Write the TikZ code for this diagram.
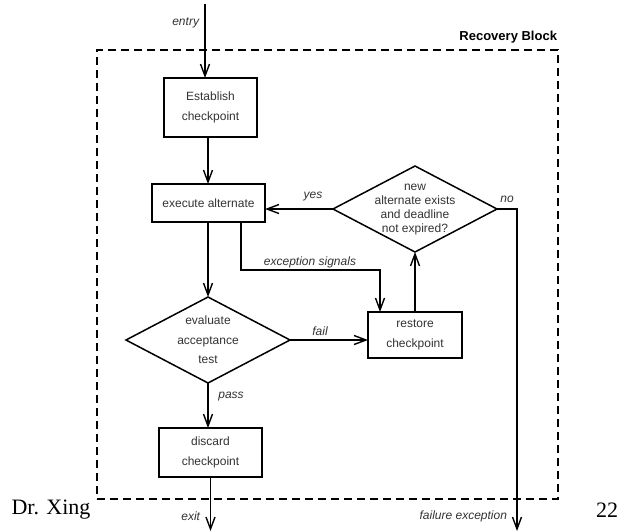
\documentclass[tikz,border=0pt]{standalone}
\usepackage{fontspec}
\setmainfont{Liberation Serif}
\newfontfamily\arialfont{Liberation Sans}
\usetikzlibrary{arrows.meta,shapes.geometric,calc}
\definecolor{textgray}{gray}{0.2}

\begin{document}
\begin{tikzpicture}[x=1pt,y=-1pt,
  every node/.style={inner sep=0pt, outer sep=0pt, text=textgray,
    font=\arialfont\fontsize{12}{19.5}\selectfont},
  procbox/.style={draw=black, line width=1.5pt, align=center},
  decision/.style={diamond, draw=black, line width=1.5pt, inner sep=0pt},
  flow/.style={draw=black, line width=1.4pt,
    -{Straight Barb[length=12pt,width=9pt,line width=1.4pt]}},
  lbl/.style={font=\arialfont\itshape\fontsize{12}{14}\selectfont},
  frame/.style={draw=black, line width=1.7pt, dash pattern=on 8pt off 5pt},
]
% page area
\fill[white] (0,0) rectangle (620,531);
\useasboundingbox (0,0) rectangle (620,531);

% recovery block frame and title
\node[frame, minimum width=461pt, minimum height=449pt] (rb) at (327.5,274.5) {};
\node[anchor=east, text=black, font=\arialfont\bfseries\fontsize{13}{15}\selectfont]
  (rbtitle) at (557,37) {Recovery Block};

% process boxes
\node[procbox, minimum width=93pt, minimum height=59pt] (est) at (210.5,107.5)
  {Establish\\checkpoint};
\node[procbox, minimum width=113pt, minimum height=38pt] (exec) at (208.5,203)
  {execute alternate};
\node[procbox, minimum width=94pt, minimum height=46pt] (rest) at (415,335)
  {restore\\checkpoint};
\node[procbox, minimum width=103pt, minimum height=49pt] (disc) at (210.5,452.5)
  {discard\\checkpoint};

% decisions
\node[decision, minimum width=164pt, minimum height=86pt] (dnew) at (415,209) {};
\node[align=center, font=\arialfont\fontsize{12}{13.7}\selectfont] (dnewtxt) at (415,209.5)
  {new\\alternate exists\\and deadline\\not expired?};
\node[decision, minimum width=164pt, minimum height=86pt] (eval) at (208,340) {};
\node[align=center] (evaltxt) at (208,340)
  {evaluate\\acceptance\\test};

% helper coordinates
\coordinate (entrytop) at (205,4);
\coordinate (ax) at (208,0);
\coordinate (exc) at (241,270);
\coordinate (excR) at (380,270);
\coordinate (exitend) at (210.5,531);
\coordinate (noend) at (517,531);

% connectors
\draw[flow] (entrytop) -- (entrytop |- est.north);
\draw[flow] (est.south -| ax) -- (exec.north -| ax);
\draw[flow] (exec.south -| ax) -- (eval.north);
\draw[flow] (exec.south -| exc) -- (exc) -- (excR) -- (excR |- rest.north);
\draw[flow] (eval.east) -- (eval.east -| rest.west);
\draw[flow] (rest.north) -- (dnew.south);
\draw[flow] (dnew.west) -- (dnew.west -| exec.east);
\draw[flow] (dnew.east) -| (noend);
\draw[flow] (eval.south) -- (eval.south |- disc.north);
\draw[flow] (disc.south) -- (exitend);

% connector labels
\node[lbl, anchor=east] (lentry) at (199,23) {entry};
\node[lbl] (lyes) at (313,197) {yes};
\node[lbl] (lno) at (507,199) {no};
\node[lbl] (lexc) at (310,262) {exception signals};
\node[lbl] (lfail) at (320,331) {fail};
\node[lbl] (lpass) at (231,397) {pass};
\node[lbl, anchor=east] (lexit) at (200,516) {exit};
\node[lbl, anchor=east] (lfailx) at (507,516) {failure exception};

% footer
\node[text=black, font=\rmfamily\fontsize{22}{24}\selectfont] (author) at (51,510) {Dr. Xing};
\node[text=black, font=\rmfamily\fontsize{22}{24}\selectfont] (page) at (607,510) {22};
\end{tikzpicture}
\end{document}
